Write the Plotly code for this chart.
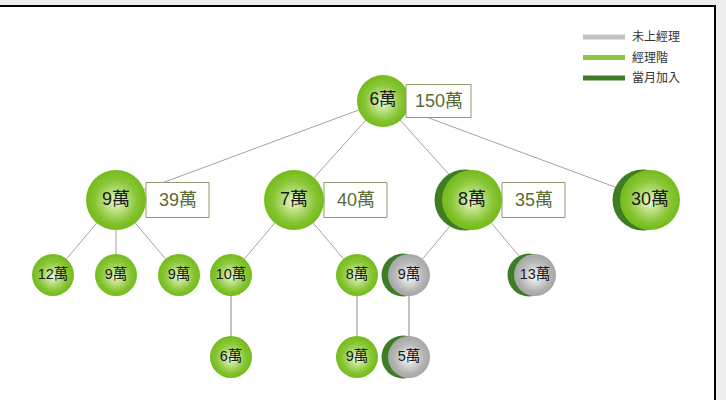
import plotly.graph_objects as go

# ---- data ----
node_labels = ["6萬", "9萬", "7萬", "8萬", "30萬", "12萬", "9萬", "9萬", "10萬", "8萬", "9萬", "13萬", "6萬", "9萬", "5萬"]
node_values = [6, 9, 7, 8, 30, 12, 9, 9, 10, 8, 9, 13, 6, 9, 5]
parents = [None, 0, 0, 0, 0, 1, 1, 1, 2, 2, 3, 3, 8, 9, 10]
rank = ["經理階", "經理階", "經理階", "經理階", "經理階", "經理階", "經理階", "經理階",
        "經理階", "經理階", "未上經理", "未上經理", "經理階", "經理階", "未上經理"]
joined_this_month = [False, False, False, True, True, False, False, False,
                     False, False, True, True, False, False, True]
legend_labels = ["未上經理", "經理階", "當月加入"]

# ---- styles / layout constants ----
W, H = 726, 400
level_y = [101, 200, 275, 357]
level1_x0, level1_dx = 116, 178
child_dx = 63
sizes = [52, 60, 42, 42]
label_font = [17.5, 18, 14.5, 14.5]
FONT = "Liberation Sans, Noto Sans CJK TC, sans-serif"
styles = {
    "經理階": dict(edge="#74bb1a", mid="#b4dd72", mid0="rgba(180,221,114,0)", center="#eef8d8"),
    "未上經理": dict(edge="#a6a6a6", mid="#d6d6d6", mid0="rgba(214,214,214,0)", center="#fbfbfb"),
}
DARK = "#3e7d24"
legend_colors = ["#c2c2c2", "#8dc63f", "#3e7d24"]

n = len(node_labels)
children = {i: [] for i in range(n)}
for i, p in enumerate(parents):
    if p is not None:
        children[p].append(i)

depth = [0] * n
for i in range(n):
    d, p = 0, parents[i]
    while p is not None:
        d += 1
        p = parents[p]
    depth[i] = d

def subtotal(i):
    return node_values[i] + sum(subtotal(c) for c in children[i])

# tree layout
xs = [0.0] * n
ys = [level_y[depth[i]] for i in range(n)]
for k, c in enumerate(children[0]):
    xs[c] = level1_x0 + k * level1_dx
xs[0] = sum(xs[c] for c in children[0]) / len(children[0])

def place(i):
    ch = children[i]
    m = len(ch)
    if m == 1:
        offs = [0]
    elif m == 2:
        offs = [-1, 1]
    else:
        offs = [k - (m - 1) / 2 for k in range(m)]
    for c, o in zip(ch, offs):
        xs[c] = xs[i] + o * child_dx
        place(c)

for c in children[0]:
    place(c)

fig = go.Figure()

# edges
for i in range(n):
    p = parents[i]
    if p is None:
        continue
    col = "#a3a3a3" if depth[i] <= 2 else "#b5b5b5"
    wid = 1 if depth[i] <= 2 else 1.6
    fig.add_trace(go.Scatter(x=[xs[p], xs[i]], y=[ys[p], ys[i]], mode="lines",
                             line=dict(color=col, width=wid), hoverinfo="skip", showlegend=False))

# dark crescents for joined this month
jidx = [i for i in range(n) if joined_this_month[i]]
fig.add_trace(go.Scatter(
    x=[xs[i] - (7 if depth[i] <= 1 else 6) for i in jidx], y=[ys[i] for i in jidx], mode="markers",
    marker=dict(size=[sizes[depth[i]] + 1 for i in jidx], color=DARK, opacity=1, line=dict(width=0)),
    hoverinfo="skip", showlegend=False))

# nodes
for r, st in styles.items():
    idx = [i for i in range(n) if rank[i] == r]
    px = [xs[i] for i in idx]
    py = [ys[i] for i in idx]
    fig.add_trace(go.Scatter(
        x=px, y=py, mode="markers",
        marker=dict(size=[sizes[depth[i]] for i in idx], color=st["edge"], opacity=1,
                    gradient=dict(type="radial", color=st["mid"]), line=dict(width=0)),
        hoverinfo="skip", showlegend=False))
    fig.add_trace(go.Scatter(
        x=px, y=[ys[i] + 2 for i in idx], mode="markers",
        marker=dict(size=[sizes[depth[i]] * 0.72 for i in idx], color=st["mid0"], opacity=1,
                    gradient=dict(type="radial", color=st["center"]), line=dict(width=0)),
        hoverinfo="skip", showlegend=False))
    fig.add_trace(go.Scatter(
        x=px, y=py, mode="text",
        text=[node_labels[i] for i in idx],
        textposition="middle center",
        textfont=dict(family=FONT, size=[label_font[depth[i]] for i in idx], color="#1a1a1a"),
        hoverinfo="skip", showlegend=False))

shapes = []
annotations = []

# background frame
shapes.append(dict(type="rect", xref="x", yref="y", x0=-10, x1=715, y0=6, y1=H + 10,
                   fillcolor="white", line=dict(width=0), layer="below"))
shapes.append(dict(type="line", xref="x", yref="y", x0=-10, x1=716, y0=6, y1=6,
                   line=dict(color="black", width=2), layer="above"))
shapes.append(dict(type="line", xref="x", yref="y", x0=715, x1=715, y0=6, y1=H + 10,
                   line=dict(color="black", width=2), layer="above"))

# total boxes (root and first level)
for i in range(n):
    if not children[i] or depth[i] > 1:
        continue
    r = sizes[depth[i]] / 2
    bw, bh = (65, 33) if depth[i] == 0 else (63, 35)
    x0 = xs[i] + r - (3 if depth[i] == 0 else 0)
    shapes.append(dict(type="rect", xref="x", yref="y", x0=x0, x1=x0 + bw,
                       y0=ys[i] - bh / 2, y1=ys[i] + bh / 2,
                       fillcolor="white", line=dict(color="#8c9a6c", width=1), layer="above"))
    annotations.append(dict(x=x0 + bw / 2, y=ys[i], xref="x", yref="y", showarrow=False,
                            text=f"{subtotal(i)}萬",
                            font=dict(family=FONT, size=18, color="#5a6b36")))

# legend
for k, (lab, col) in enumerate(zip(legend_labels, legend_colors)):
    yy = 37 + k * 20.5
    shapes.append(dict(type="line", xref="x", yref="y", x0=583, x1=625, y0=yy, y1=yy,
                       line=dict(color=col, width=5), layer="above"))
    annotations.append(dict(x=630, y=yy, xref="x", yref="y", showarrow=False, xanchor="left",
                            text=lab, font=dict(family=FONT, size=12, color="#333333")))

fig.update_layout(
    width=W, height=H, margin=dict(l=0, r=0, t=0, b=0),
    paper_bgcolor="#eeeeee", plot_bgcolor="rgba(0,0,0,0)",
    xaxis=dict(range=[0, W], visible=False, fixedrange=True),
    yaxis=dict(range=[H, 0], visible=False, fixedrange=True),
    shapes=shapes, annotations=annotations, showlegend=False,
)

fig.write_html("out.html", config={"displayModeBar": False},
               post_script="document.body.style.margin='0';document.body.style.overflow='hidden';")
